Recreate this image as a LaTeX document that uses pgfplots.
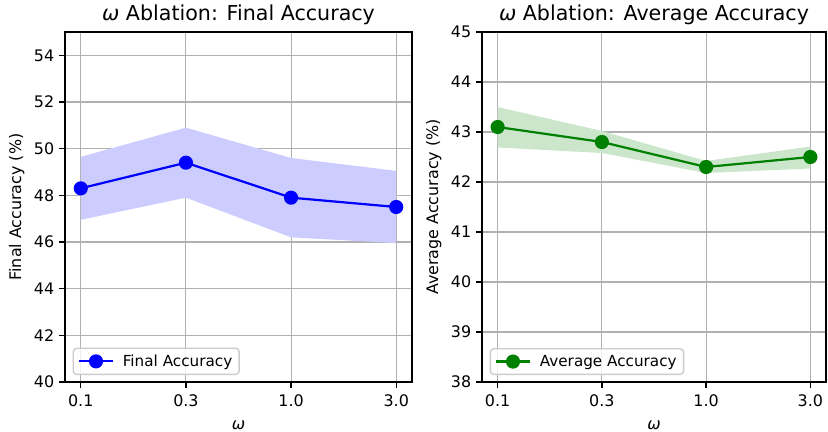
\documentclass[border=0pt]{standalone}
\usepackage{fontspec}
\setmainfont{DejaVu Sans}
\usepackage{pgfplots}
\pgfplotsset{compat=1.18}
\usepgfplotslibrary{fillbetween}
\definecolor{bandblue}{HTML}{CCCCFF}
\definecolor{bandgreen}{HTML}{CCE6CC}
\definecolor{mplgreen}{HTML}{008000}
\definecolor{gridgray}{HTML}{B0B0B0}
\definecolor{legedge}{HTML}{CCCCCC}
\pgfplotsset{
 myaxis/.style={
  scale only axis, width=3.47in, height=3.5in,
  xmin=-0.15, xmax=3.15,
  xtick={0,1,2,3}, xticklabels={0.1,0.3,1.0,3.0},
  grid=major, major grid style={gridgray, line width=0.8pt},
  axis line style={line width=1pt},
  tick style={black, line width=1pt}, major tick length=4.3pt,
  tick align=outside, xtick pos=bottom, ytick pos=left,
  /pgf/number format/assume math mode=true,
  tick label style={font=\fontsize{11.5}{13.8}\selectfont},
  xticklabel style={yshift=-1pt},
  label style={font=\fontsize{11.5}{13.8}\selectfont},
  xlabel style={yshift=-4pt},
  title style={font=\fontsize{14.9}{17.9}\selectfont, at={(0.5,1)}, anchor=base, yshift=2pt},
  xlabel={\itshape ω},
  legend style={at={(0,0)}, anchor=south west, xshift=5.5pt, yshift=5pt, draw=legedge, line width=1pt, rounded corners=2.5pt, fill=white, fill opacity=0.8, text opacity=1, draw opacity=1, font=\fontsize{11}{13.2}\selectfont, inner xsep=3pt, inner ysep=2.5pt, column sep=4pt},
  legend cell align=left,
  legend image code/.code={\draw[fill opacity=1, draw opacity=1, mark repeat=2,mark phase=2] plot coordinates {(0pt,0pt)(12.6pt,0pt)(25.2pt,0pt)};},
 }
}
\begin{document}
\begin{tikzpicture}
\begin{axis}[myaxis, at={(0.65in,0.50in)}, anchor=south west,
  ymin=40, ymax=55, ytick={40,42,44,46,48,50,52,54},
  title={{\itshape ω} Ablation: Final Accuracy},
  ylabel={Final Accuracy (\%)}]
\addplot[name path=upA, draw=none, forget plot] coordinates {(0,49.65) (1,50.9) (2,49.6) (3,49.05)};
\addplot[name path=loA, draw=none, forget plot] coordinates {(0,46.95) (1,47.9) (2,46.2) (3,45.95)};
\addplot[bandblue, draw=none, forget plot] fill between[of=upA and loA];
\addplot[blue, line width=1.6pt, mark=*, mark size=4.3pt, mark options={solid, fill=blue, draw=blue}] coordinates {(0,48.3) (1,49.4) (2,47.9) (3,47.5)};
\addlegendentry{Final Accuracy}
\end{axis}
\begin{axis}[myaxis, at={(4.82in,0.50in)}, anchor=south west, width=3.44in,
  ymin=38, ymax=45, ytick={38,39,40,41,42,43,44,45},
  title={{\itshape ω} Ablation: Average Accuracy},
  ylabel={Average Accuracy (\%)}]
\addplot[name path=upB, draw=none, forget plot] coordinates {(0,43.5) (1,43.02) (2,42.42) (3,42.71)};
\addplot[name path=loB, draw=none, forget plot] coordinates {(0,42.69) (1,42.58) (2,42.18) (3,42.27)};
\addplot[bandgreen, draw=none, forget plot] fill between[of=upB and loB];
\addplot[mplgreen, line width=1.6pt, mark=*, mark size=4.3pt, mark options={solid, fill=mplgreen, draw=mplgreen}] coordinates {(0,43.1) (1,42.8) (2,42.3) (3,42.5)};
\addlegendentry{Average Accuracy}
\end{axis}
\pgfresetboundingbox
\useasboundingbox (0,0) rectangle (8.28in,4.32in);
\end{tikzpicture}
\end{document}
